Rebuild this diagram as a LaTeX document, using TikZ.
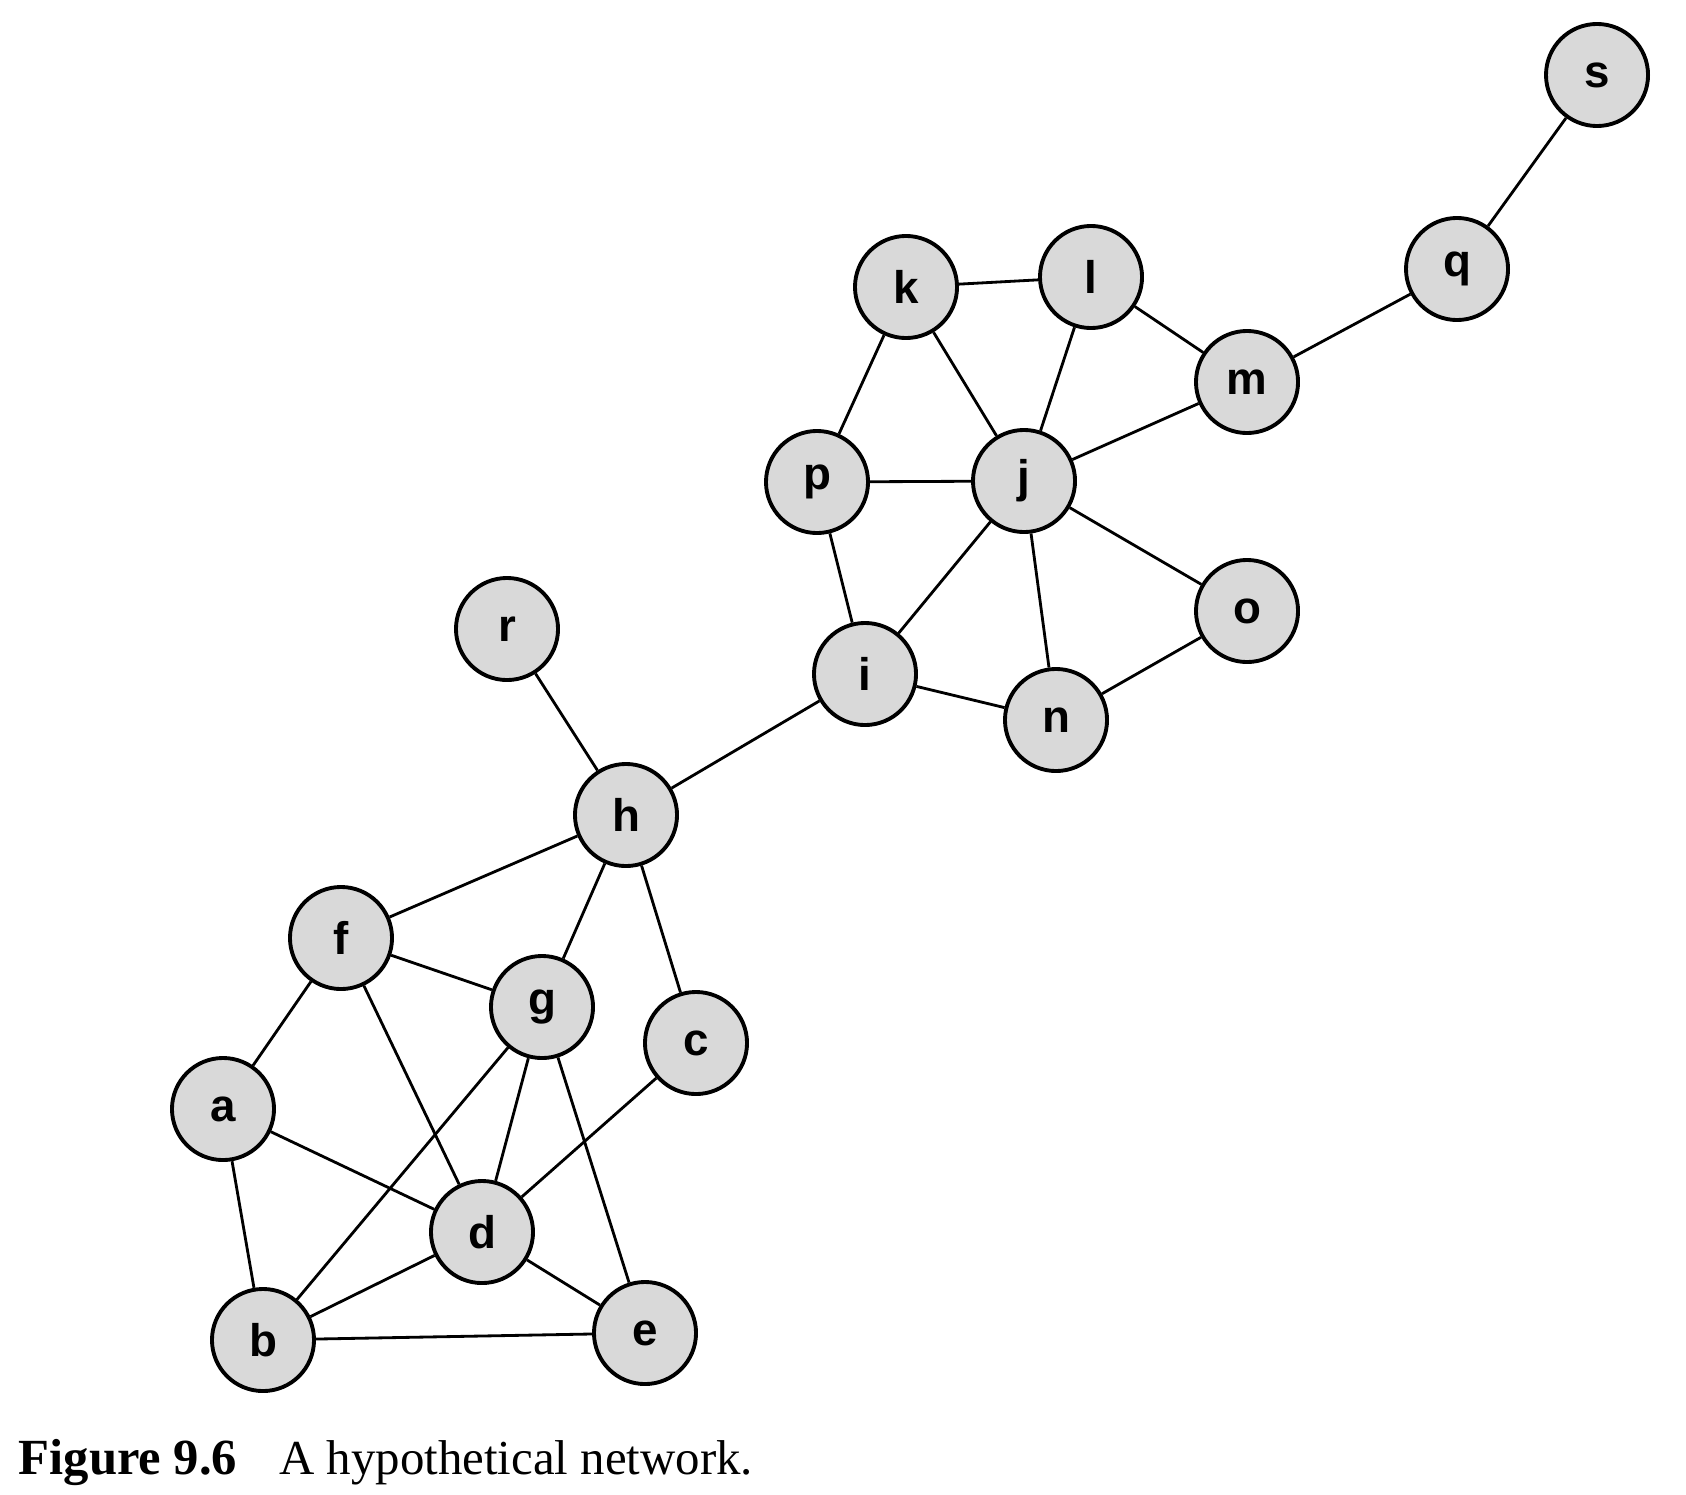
\documentclass[tikz,border=0pt]{standalone}
\usepackage{fontspec}
\setmainfont{Liberation Serif}
\setsansfont{Liberation Sans}
\usepackage{tikz}
\usetikzlibrary{shapes,arrows,backgrounds,positioning}
\tikzset{
  netnode/.style = {align=center, inner sep=0pt, text centered,
    font=\sffamily},
  net_n/.style = {netnode, circle, black, font=\sffamily\bfseries\fontsize{13}{15}\selectfont,
    draw=black, line width=1.1pt, fill=black!15, minimum size=1.02cm},% noeud du reseau
  net_e/.style = {draw=black, line width=0.8pt}% arete du reseau
}
\begin{document}
\begin{tikzpicture}[x=0.01cm,y=-0.01cm]
        \useasboundingbox (0,0) rectangle (1686,1494);
        \node [net_n] (s) at (1597,75) {s};
        \node [net_n] (q) at (1457,269) {q};
        \node [net_n] (k) at (906,287) {k};
        \node [net_n] (l) at (1091,277) {l};
        \node [net_n] (m) at (1247,382) {m};
        \node [net_n] (p) at (817,482) {p};
        \node [net_n] (j) at (1024,481) {j};
        \node [net_n] (o) at (1247,611) {o};
        \node [net_n] (r) at (507,629) {r};
        \node [net_n] (i) at (865,674) {i};
        \node [net_n] (n) at (1056,720) {n};
        \node [net_n] (h) at (626,815) {h};
        \node [net_n] (f) at (341,938) {f};
        \node [net_n] (g) at (542,1007) {g};
        \node [net_n] (c) at (696,1043) {c};
        \node [net_n] (a) at (223,1109) {a};
        \node [net_n] (d) at (482,1232) {d};
        \node [net_n] (b) at (263,1340) {b};
        \node [net_n] (e) at (645,1333) {e};
        % aretes
        \draw [net_e] (s) -- (q) (q) -- (m) (l) -- (m) (k) -- (l) (k) -- (p) (k) -- (j);
        \draw [net_e] (l) -- (j) (m) -- (j) (p) -- (j) (p) -- (i) (j) -- (i) (j) -- (n);
        \draw [net_e] (j) -- (o) (o) -- (n) (i) -- (n) (i) -- (h) (r) -- (h);
        \draw [net_e] (h) -- (f) (h) -- (g) (h) -- (c) (f) -- (g) (f) -- (a) (f) -- (d);
        \draw [net_e] (g) -- (d) (g) -- (b) (g) -- (e) (c) -- (d) (a) -- (d) (a) -- (b);
        \draw [net_e] (b) -- (d) (b) -- (e) (d) -- (e);
        \node [anchor=base west, inner sep=0pt] (cap) at (18,1474)
          {{\bfseries\fontsize{14.4}{17}\selectfont Figure 9.6}\hspace{0.42cm}{\fontsize{13.9}{16}\selectfont A hypothetical network.}};
\end{tikzpicture}
\end{document}
